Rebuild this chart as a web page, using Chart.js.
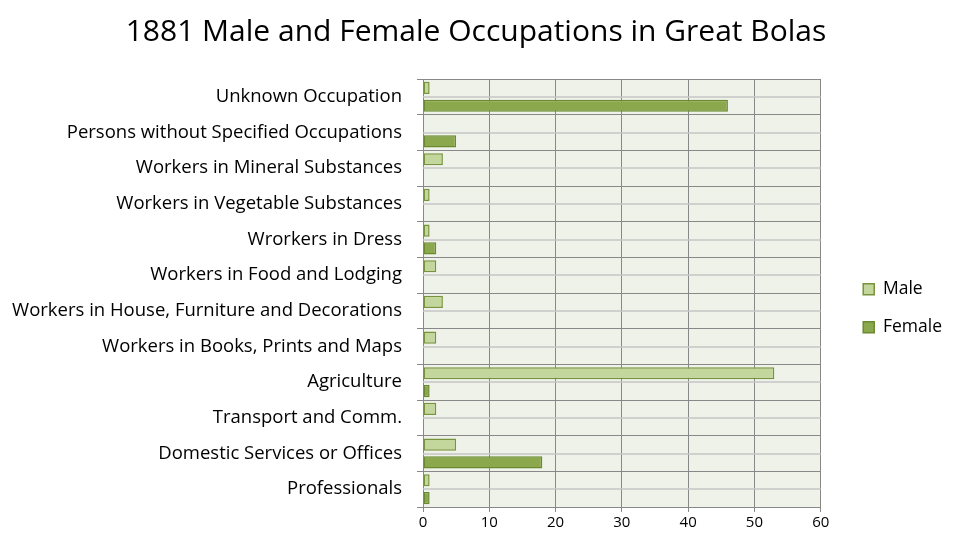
<!DOCTYPE html>
<html>
<head>
<meta charset="utf-8">
<script src="https://cdn.jsdelivr.net/npm/chart.js@4/dist/chart.umd.min.js"></script>
<style>
  html, body { margin: 0; padding: 0; background: #fff; }
  #wrap { width: 960px; height: 553px; }
</style>
</head>
<body>
<div id="wrap"><canvas id="chart"></canvas></div>
<script>
// Categories, top to bottom
const categories = [
    'Unknown Occupation',
    'Persons without Specified Occupations',
    'Workers in Mineral Substances',
    'Workers in Vegetable Substances',
    'Wrorkers in Dress',
    'Workers in Food and Lodging',
    'Workers in House, Furniture and Decorations',
    'Workers in Books, Prints and Maps',
    'Agriculture',
    'Transport and Comm.',
    'Domestic Services or Offices',
    'Professionals'
];
const maleValues   = [1, 0, 3, 1, 1, 2, 3, 2, 53, 2, 5, 1];
const femaleValues = [46, 5, 0, 0, 2, 0, 0, 0, 1, 0, 18, 1];
const xTicks = [0, 10, 20, 30, 40, 50, 60];

const FONT = '"Open Sans", Lato, sans-serif';

// plot background + the light lines through each category centre
const plotDecor = {
    id: 'plotDecor',
    beforeDraw(chart) {
        const { ctx, chartArea: a } = chart;
        ctx.save();
        ctx.fillStyle = '#eff2e9';
        ctx.fillRect(a.left, a.top, a.right - a.left, a.bottom - a.top);
        ctx.restore();
    },
    beforeDatasetsDraw(chart) {
        const { ctx, chartArea: a, scales } = chart;
        ctx.save();
        ctx.strokeStyle = '#c6c6c6';
        ctx.lineWidth = 1.5;
        categories.forEach((c, i) => {
            const y = Math.round(scales.y.getPixelForValue(i));
            ctx.beginPath();
            ctx.moveTo(a.left, y);
            ctx.lineTo(a.right, y);
            ctx.stroke();
        });
        ctx.restore();
    }
};

new Chart(document.getElementById('chart'), {
    type: 'bar',
    data: {
        labels: categories,
        datasets: [{
            label: 'Male',
            data: maleValues,
            backgroundColor: '#c3d69b',
            borderColor: '#77933c',
            borderWidth: 1.5,
            borderSkipped: false
        }, {
            label: 'Female',
            data: femaleValues,
            backgroundColor: '#8ba84c',
            borderColor: '#6b8a30',
            borderWidth: 1.5,
            borderSkipped: false
        }]
    },
    options: {
        indexAxis: 'y',
        responsive: true,
        maintainAspectRatio: false,
        animation: false,
        datasets: {
            bar: { categoryPercentage: 1.0, barPercentage: 0.68 }
        },
        layout: { padding: { left: 0, right: 8, top: 14, bottom: 19 } },
        plugins: {
            title: {
                display: true,
                text: '1881 Male and Female Occupations in Great Bolas',
                color: '#000',
                font: { family: FONT, size: 30, weight: 'normal' },
                padding: { top: 0, bottom: 29 }
            },
            legend: {
                position: 'right',
                title: {
                    display: true,
                    text: '',
                    font: { size: 12 },
                    padding: { top: 0, bottom: 54 }
                },
                labels: {
                    color: '#000',
                    font: { family: FONT, size: 17.5 },
                    boxWidth: 11,
                    boxHeight: 11,
                    padding: 20.5
                }
            },
            tooltip: { enabled: false }
        },
        scales: {
            x: {
                min: 0,
                max: 60,
                afterBuildTicks(axis) {
                    axis.ticks = xTicks.map(v => ({ value: v }));
                },
                ticks: {
                    color: '#000',
                    font: { family: FONT, size: 15 },
                    padding: 2
                },
                grid: { color: '#888', tickLength: 5 },
                border: { color: '#888' }
            },
            y: {
                afterFit(axis) { axis.width = 423; },
                ticks: {
                    color: '#000',
                    font: { family: FONT, size: 18.5 },
                    padding: 15,
                    autoSkip: false
                },
                grid: { color: '#888', tickLength: 6, offset: true },
                border: { color: '#888' }
            },
            // empty spacer between the plot and the legend
            gap: {
                type: 'category',
                position: 'right',
                afterFit(axis) { axis.width = 22; },
                ticks: { display: false },
                grid: { display: false },
                border: { display: false }
            }
        }
    },
    plugins: [plotDecor]
});
</script>
</body>
</html>
